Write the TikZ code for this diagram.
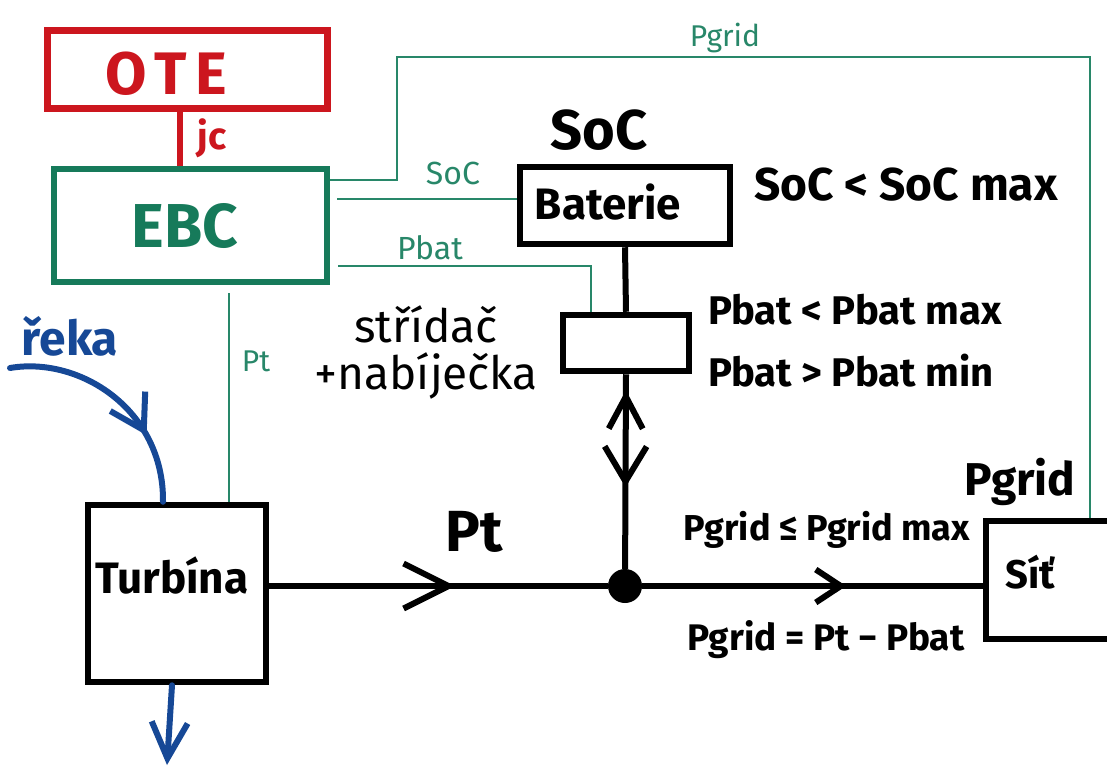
\documentclass[tikz,border=0pt]{standalone}
\usepackage{fontspec}
\setmainfont{Fira Sans}
\usetikzlibrary{arrows.meta, decorations.markings}

\definecolor{otered}{RGB}{204,22,30}
\definecolor{ebcgreen}{RGB}{22,122,90}
\definecolor{siggreen}{RGB}{40,135,105}
\definecolor{riverblue}{RGB}{22,72,150}

\tikzset{
  blok/.style={draw, line width=6.5pt, inner sep=0pt},
  popis/.style={font=\bfseries\fontsize{#1}{#1}\selectfont, inner sep=0pt},
  tenky/.style={text=siggreen, font=\fontsize{#1}{#1}\selectfont, inner sep=0pt},
  silova/.style={line width=6pt},
  signal/.style={siggreen, line width=1.8pt},
  voda/.style={riverblue, line width=6pt, line cap=round},
}

\begin{document}
\begin{tikzpicture}[x=1pt, y=-1pt]
    % parametry
    \def\W{1107}   % sirka obrazku
    \def\H{769}    % vyska obrazku
    \useasboundingbox (0,0) rectangle (\W,\H);

    % bloky
    \node[blok, draw=otered, minimum width=280pt, minimum height=78pt] (ote) at (187.5,69.5) {};
    \node[blok, draw=ebcgreen, line width=6pt, minimum width=273pt, minimum height=113pt] (ebc) at (190.5,225.5) {};
    \node[blok, minimum width=210pt, minimum height=77pt] (bat) at (625,205.5) {};
    \node[blok, minimum width=126pt, minimum height=56pt] (str) at (626,343) {};
    \node[blok, minimum width=178pt, minimum height=177pt] (tur) at (177,593.5) {};
    \node[blok, minimum width=150pt, minimum height=118pt] (sit) at (1061,580) {};
    \node[circle, fill, inner sep=0pt, minimum size=34pt] (uz) at (625,586) {};

    % texty v blocich
    \node[popis=60pt, text=otered] (oteT) at (166,74) {O\hspace{8pt}T\hspace{8pt}E};
    \node[popis=62pt, text=ebcgreen] (ebcT) at (185,226) {EBC};
    \node[popis=44pt] (batT) at (608,202) {Baterie};
    \node[popis=44pt] (turT) at (172,575) {Turbína};
    \node[popis=40pt] (sitT) at (1030,572) {Síť};

    % popisky
    \node[popis=38pt, text=otered] (jcT) at (212,138) {jc};
    \node[popis=56pt] (socT) at (599,130) {SoC};
    \node[popis=46pt] (socmax) at (906,185) {SoC < SoC max};
    \node[popis=40pt, anchor=west] (pbmax) at (708,310) {Pbat < Pbat max};
    \node[popis=40pt, anchor=west] (pbmin) at (708,371) {Pbat > Pbat min};
    \node[font=\fontsize{46pt}{47pt}\selectfont, inner sep=0pt, align=center] (strT) at (426,352) {střídač\\+nabíječka};
    \node[popis=58pt] (ptT) at (474,532) {Pt};
    \node[popis=46pt] (pgT) at (1020,482) {Pgrid};
    \node[popis=36pt] (pgmax) at (827,530) {Pgrid ≤ Pgrid max};
    \node[popis=37pt] (pgeq) at (826,640) {Pgrid = Pt − Pbat};
    \node[popis=48pt, text=riverblue] (rekaT) at (70,336) {řeka};

    % signaly
    \node[tenky=32pt] (socG) at (453,173) {SoC};
    \node[tenky=32pt] (pbatG) at (430,248) {Pbat};
    \node[tenky=30pt] (pgridG) at (725,38) {Pgrid};
    \node[tenky=30pt] (ptG) at (256,361) {Pt};

    \coordinate (jc) at (180,140);
    \draw[otered, line width=6pt] (ote.south -| jc) -- (ebc.north -| jc);

    \coordinate (r1) at (397,57);
    \coordinate (r2) at (1090,57);
    \draw[signal] ([yshift=45.5pt]ebc.east) -| (r1) -- (r2) -- (r2 |- sit.north);
    \coordinate (s1) at ([xshift=7pt,yshift=26.5pt]ebc.east);
    \draw[signal] (s1) -- (s1 -| bat.west);
    \coordinate (p1) at ([xshift=8pt,yshift=-40.5pt]ebc.east);
    \draw[signal] (p1) -| ([xshift=-35pt]str.north);
    \coordinate (t1) at (229,0);
    \draw[signal] ([yshift=-8pt]ebc.south -| t1) -- (tur.north -| t1);

    % vykon
    \draw[silova] (bat.south) -- (str.north);
    \draw[silova, postaction={decorate, decoration={markings,
        mark=at position 16pt with {\arrowreversed{Straight Barb[length=32pt, width=34pt]}},
        mark=at position 113pt with {\arrow{Straight Barb[length=35pt, width=42pt]}}}}]
        (str.south) -- (uz);
    \draw[silova, postaction={decorate, decoration={markings,
        mark=at position 186pt with {\arrow{Straight Barb[length=45pt, width=45pt]}}}}]
        (tur.east |- uz) -- (uz);
    \draw[silova, postaction={decorate, decoration={markings,
        mark=at position 204pt with {\arrow{Straight Barb[length=25pt, width=33pt]}}}}]
        (uz) -- (uz -| sit.west);

    % voda
    \coordinate (rk) at (10,368);
    \coordinate (vy) at (167,765);
    \draw[voda, postaction={decorate, decoration={markings,
        mark=at position 0.7 with {\arrow{Straight Barb[length=33pt, width=40pt]}}}}]
        (rk) .. controls (80,356) and (164,410) .. ([xshift=-14pt]tur.north);
    \draw[voda, -{Straight Barb[length=36pt, width=36pt]}] ([xshift=-5pt]tur.south) -- (vy);
\end{tikzpicture}
\end{document}
